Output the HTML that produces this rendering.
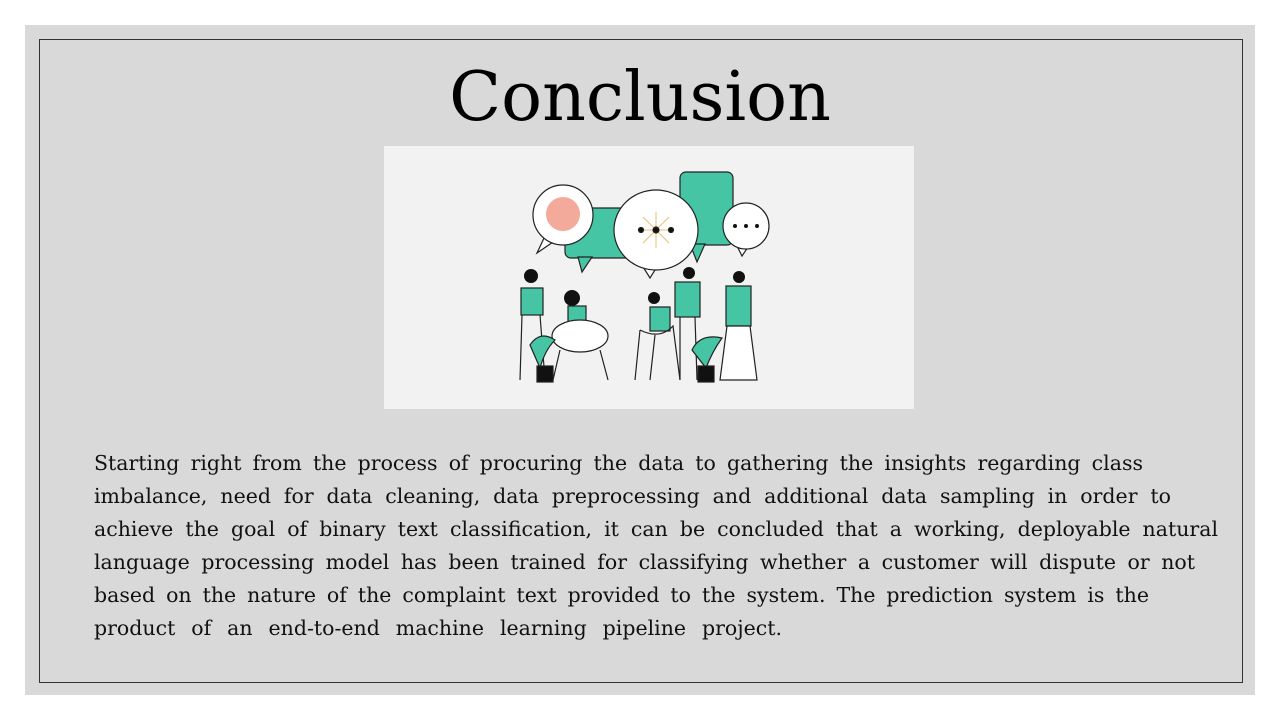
<!DOCTYPE html>
<html><head><meta charset="utf-8"><style>
html,body{margin:0;padding:0;background:#fff;width:1280px;height:720px;overflow:hidden}
.panel{position:absolute;left:25px;top:25px;width:1230px;height:670px;background:#d9d9d9}
.border{position:absolute;left:39px;top:39px;width:1202px;height:642px;border:1px solid #333}
.title{position:absolute;left:0;width:1280px;top:53px;text-align:center;font-family:"DejaVu Serif",serif;font-size:68px;line-height:90px;color:#000}
.img{position:absolute;left:384px;top:146px;width:530px;height:263px;background:#f2f2f2}
.txt{position:absolute;left:94px;top:447px;font-family:"DejaVu Serif",serif;font-size:20.5px;line-height:33px;color:#111}
.txt div{white-space:nowrap;text-align:justify;text-align-last:justify;height:33px}
</style></head><body>
<div class="panel"></div>
<div class="border"></div>
<div class="title">Conclusion</div>
<div class="img">
<svg width="530" height="263" viewBox="384 146 530 263" xmlns="http://www.w3.org/2000/svg" stroke="#222" stroke-width="1.2">
<rect x="565" y="208" width="67" height="50" rx="6" fill="#45c5a3"/>
<path d="M578 257 L582 272 L592 257Z" fill="#45c5a3"/>
<path d="M545 236 L537 253 L556 240Z" fill="#fff"/>
<circle cx="563" cy="215" r="30" fill="#fff"/>
<circle cx="563" cy="214" r="17" fill="#f4aa9a" stroke="none"/>
<rect x="680" y="172" width="53" height="73" rx="6" fill="#45c5a3"/>
<path d="M690 244 L697 262 L705 244Z" fill="#45c5a3"/>
<path d="M640 262 L650 278 L660 262Z" fill="#fff"/>
<ellipse cx="656" cy="230" rx="42" ry="40" fill="#fff"/>
<g stroke="#e8c070" stroke-width="1"><line x1="656" y1="212" x2="656" y2="248"/><line x1="638" y1="230" x2="674" y2="230"/><line x1="643" y1="217" x2="669" y2="243"/><line x1="669" y1="217" x2="643" y2="243"/></g>
<circle cx="656" cy="230" r="3" fill="#111"/><circle cx="641" cy="230" r="2.5" fill="#111"/><circle cx="671" cy="230" r="2.5" fill="#111"/>
<path d="M736 244 L742 256 L750 244Z" fill="#fff"/>
<circle cx="746" cy="226" r="23" fill="#fff"/>
<g fill="#111" stroke="none"><circle cx="735" cy="226" r="2"/><circle cx="746" cy="226" r="2"/><circle cx="757" cy="226" r="2"/></g>
<g fill="#111" stroke="none"><circle cx="531" cy="276" r="7"/><circle cx="572" cy="298" r="8"/><circle cx="654" cy="298" r="6"/><circle cx="689" cy="273" r="6"/><circle cx="739" cy="277" r="6"/></g>
<rect x="521" y="288" width="22" height="27" fill="#45c5a3"/>
<path d="M522 315 L520 380 M540 315 L545 380" fill="none"/>
<rect x="568" y="306" width="18" height="22" fill="#45c5a3"/>
<ellipse cx="580" cy="336" rx="28" ry="16" fill="#fff"/>
<path d="M560 350 L553 380 M600 350 L608 380" fill="none"/>
<rect x="650" y="307" width="20" height="24" fill="#45c5a3"/>
<path d="M640 330 L635 380 M655 335 L650 380" fill="none"/>
<path d="M640 330 Q660 340 673 326 L680 380" fill="none"/>
<rect x="675" y="282" width="25" height="35" fill="#45c5a3"/>
<path d="M680 317 L680 380 M695 317 L697 380" fill="none"/>
<rect x="726" y="286" width="25" height="40" fill="#45c5a3"/>
<path d="M727 326 L720 380 L757 380 L750 326Z" fill="#fff"/>
<path d="M530 345 Q540 330 555 340 Q545 350 540 368Z" fill="#45c5a3"/>
<rect x="537" y="366" width="16" height="16" fill="#111"/>
<path d="M692 350 Q700 333 722 338 Q712 352 706 368Z" fill="#45c5a3"/>
<rect x="698" y="366" width="16" height="16" fill="#111"/>
</svg>
</div>
<div class="txt">
<div style="width:1049px">Starting right from the process of procuring the data to gathering the insights regarding class</div>
<div style="width:1077px">imbalance, need for data cleaning, data preprocessing and additional data sampling in order to</div>
<div style="width:1124px">achieve the goal of binary text classification, it can be concluded that a working, deployable natural</div>
<div style="width:1101px">language processing model has been trained for classifying whether a customer will dispute or not</div>
<div style="width:1055px">based on the nature of the complaint text provided to the system. The prediction system is the</div>
<div style="width:688px">product of an end-to-end machine learning pipeline project.</div>
</div>
</body></html>
